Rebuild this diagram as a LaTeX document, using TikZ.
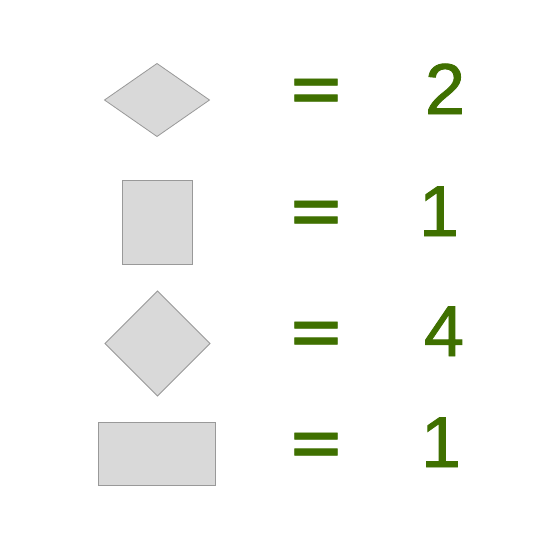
\documentclass[tikz,border=0pt]{standalone}
\usepackage{fontspec}
\setmainfont{Liberation Sans}
\newfontfamily\numfont[FakeBold=1.2]{Liberation Sans}
\newfontfamily\eqfont[FakeBold=0.8]{DejaVu Sans}
\usetikzlibrary{shapes.geometric}
\definecolor{shapefill}{HTML}{D9D9D9}
\definecolor{shapeline}{HTML}{999999}
\definecolor{numgreen}{HTML}{3F7000}
\tikzset{
  shp/.style={draw=shapeline, fill=shapefill, line width=0.8pt, inner sep=0pt, outer sep=0pt},
  dia/.style={shp, diamond},
  box/.style={shp, rectangle},
  eqsign/.style={text=numgreen, inner sep=0pt, anchor=center, font=\eqfont\fontsize{80}{80}\selectfont},
  num/.style={text=numgreen, inner sep=0pt, anchor=base, font=\numfont\fontsize{72}{72}\selectfont},
}
\newcommand{\eqglyph}{\scalebox{0.85}[1]{=}}
\begin{document}
\begin{tikzpicture}[x=1pt, y=-1pt]
\useasboundingbox[fill=white] (0,0) rectangle (560,560);
% shapes
\node[dia, minimum width=105pt, minimum height=73pt] (d1) at (157,100) {};
\node[box, minimum width=70pt, minimum height=84pt] (r1) at (157,222) {};
\node[dia, minimum width=105pt, minimum height=105pt] (d2) at (157.5,343.5) {};
\node[box, minimum width=117pt, minimum height=63pt] (r2) at (156.5,453.5) {};
% equal signs
\node[eqsign] (e1) at (316,97) {\eqglyph};
\node[eqsign] (e2) at (316,219) {\eqglyph};
\node[eqsign] (e3) at (316,340) {\eqglyph};
\node[eqsign] (e4) at (316,451) {\eqglyph};
% numbers
\node[num] (n1) at (445,114) {2};
\node[num] (n2) at (439,236) {1};
\node[num] (n3) at (444,356) {4};
\node[num] (n4) at (441,467) {1};
\end{tikzpicture}
\end{document}
